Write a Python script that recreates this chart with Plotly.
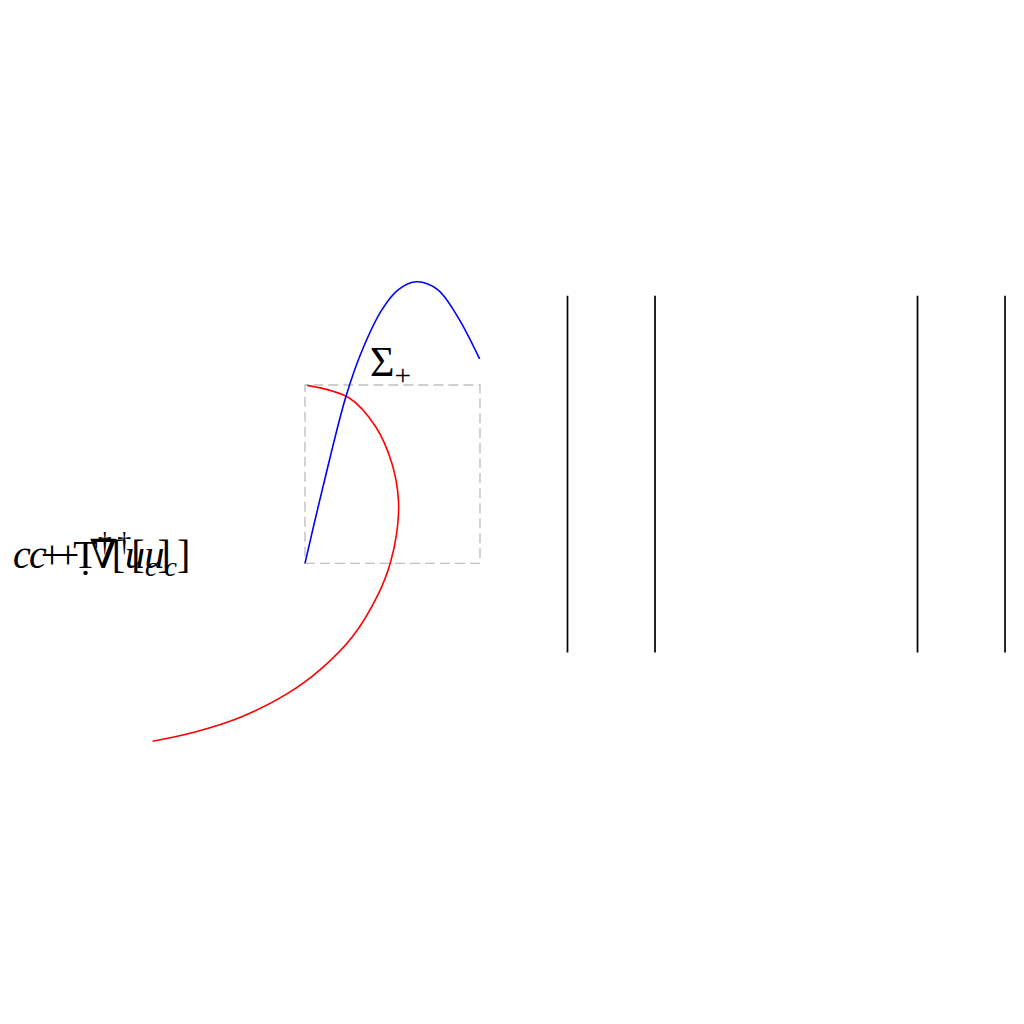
import plotly.graph_objects as go

# curve samples (unit square = dashed box)
blue_x = [0.0, 0.103, 0.234, 0.328, 0.44, 0.534, 0.637, 0.758, 0.871, 0.998]
blue_y = [0.0, 0.43, 0.936, 1.198, 1.423, 1.535, 1.579, 1.535, 1.385, 1.146]

red_x = [0.013, 0.253, 0.403, 0.496, 0.534, 0.524, 0.487, 0.421, 0.271, 0.084, -0.103, -0.365, -0.628, -0.871]
red_y = [0.998, 0.927, 0.767, 0.562, 0.356, 0.169, 0.0, -0.169, -0.412, -0.599, -0.732, -0.862, -0.946, -0.998]

box_x = [0, 1, 1, 0, 0]
box_y = [0, 0, 1, 1, 0]

wall_x = [1.5, 2.0, 3.5, 4.0]
wall_bottom = -0.5
wall_top = 1.5

label_sigma = "Σ<sub>+</sub>"
label_a = "<i>c</i> + Ṭ<sup>†</sup>[<i>u</i><sub><i>c</i></sub>]"
label_b = "<i>c</i> + ∇<sup>†</sup>[<i>u</i><sub><i>c</i></sub>]"

fig = go.Figure()

fig.add_trace(go.Scatter(x=box_x, y=box_y, mode='lines',
                         line=dict(color='#c0c0c0', width=1.4, dash='10px,5px'),
                         hoverinfo='skip'))

for wx in wall_x:
    fig.add_trace(go.Scatter(x=[wx, wx], y=[wall_bottom, wall_top], mode='lines',
                             line=dict(color='black', width=1.7), hoverinfo='skip'))

fig.add_trace(go.Scatter(x=red_x, y=red_y, mode='lines',
                         line=dict(color='#ff0000', width=1.6, shape='spline', smoothing=1.0)))
fig.add_trace(go.Scatter(x=blue_x, y=blue_y, mode='lines',
                         line=dict(color='#0000ff', width=1.6, shape='spline', smoothing=1.0)))

serif = dict(family='Liberation Serif, DejaVu Serif, serif', size=42, color='black')
serif_small = dict(family='Liberation Serif, DejaVu Serif, serif', size=40, color='black')

fig.add_annotation(x=0.49, y=1.11, text=label_sigma, showarrow=False,
                   xanchor='center', yanchor='middle', font=serif)
fig.add_annotation(x=-1.68, y=0.05, text=label_a, showarrow=False,
                   xanchor='left', yanchor='middle', font=serif_small)
fig.add_annotation(x=-1.589, y=0.05, text=label_b, showarrow=False,
                   xanchor='left', yanchor='middle', font=serif_small)

# the page puts the plot 8px in from the top-left corner, and the right edge
# gets cut off, so the x scale is squeezed a little to keep the last wall in view
fig.update_layout(
    width=1000, height=800, autosize=False,
    margin=dict(l=0, r=0, t=0, b=0),
    paper_bgcolor='white', plot_bgcolor='white',
    showlegend=False,
    xaxis=dict(range=[-1.697, 4.017], visible=False, fixedrange=True),
    yaxis=dict(range=[-1.372, 3.114], visible=False, fixedrange=True),
)

fig.write_html("out.html")
